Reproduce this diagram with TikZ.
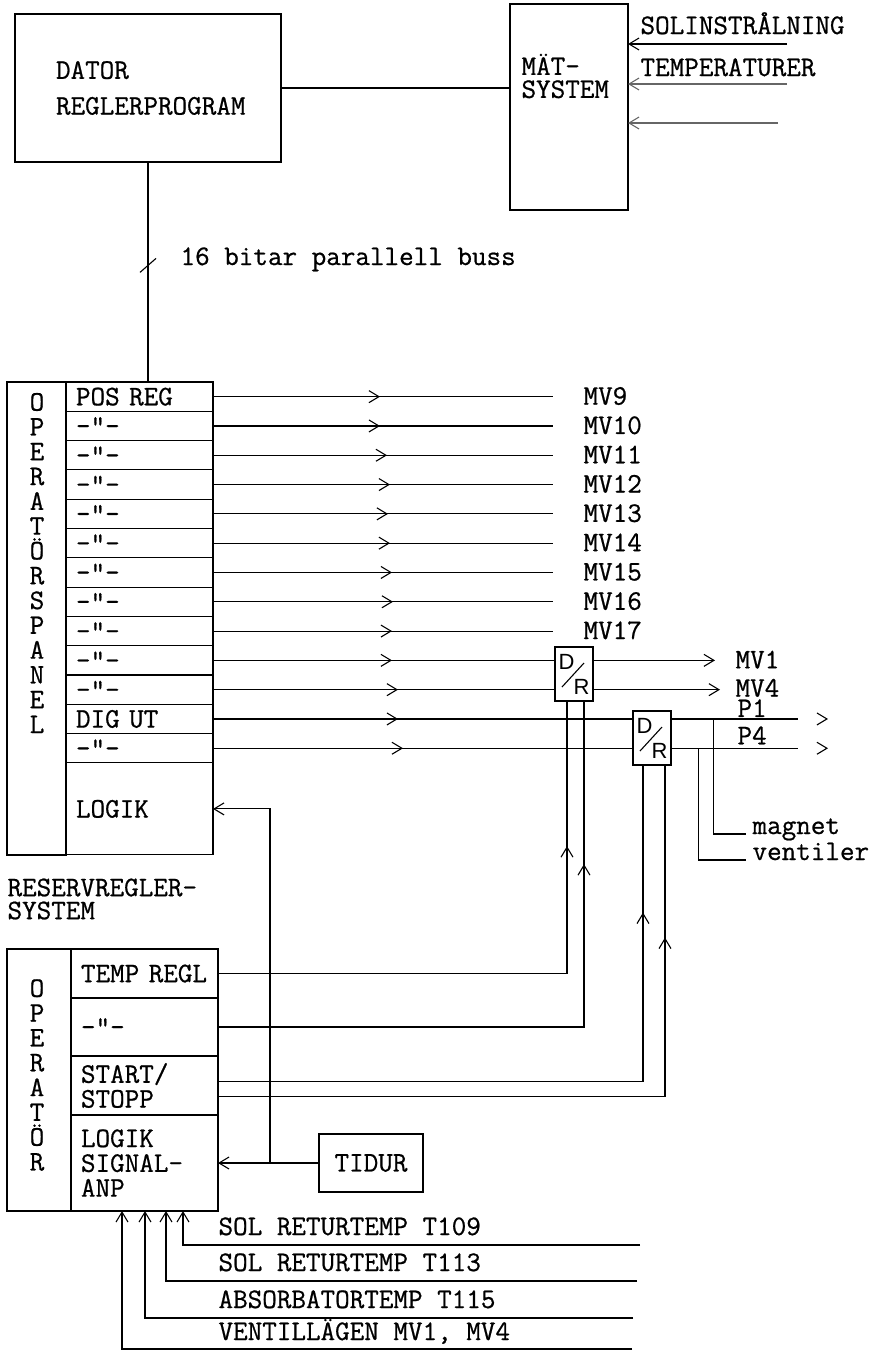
\documentclass[tikz,border=0pt]{standalone}
\usepackage{fontspec}
\setmonofont{Latin Modern Mono}[FakeBold=0.7]
\setsansfont{Liberation Sans}
\usetikzlibrary{arrows.meta,positioning,calc,decorations.markings}

\tikzset{
  box/.style={draw, inner sep=0pt, outer sep=0pt},
  cell/.style={draw, outer sep=0pt, minimum width=147pt, minimum height=29.3pt,
    text width=127pt, align=left, inner xsep=10pt, inner ysep=0pt},
  lbl/.style={inner sep=0pt},
  arr/.style={-{Straight Barb[length=10pt,width=12pt]}},
  midarr/.style={postaction={decorate}, decoration={markings,
      mark=at position #1 with {\arrow{Straight Barb[length=10pt,width=12pt]}}}},
  dr/.style={draw, minimum width=38pt, minimum height=54pt, inner sep=0pt,
    font=\sffamily\fontsize{22}{22}\selectfont,
    path picture={\draw[line width=1.1pt]
      ([shift={(7pt,14pt)}]path picture bounding box.south west) --
      ([shift={(-9pt,-16pt)}]path picture bounding box.north east);}},
}

\begin{document}
\begin{tikzpicture}[x=1pt, y=-1pt, line width=1.1pt,
  font=\ttfamily\fontsize{28.3}{24.8}\selectfont]
\useasboundingbox (0,0) rectangle (881,1352);

% computer and measuring system
\node[box, minimum width=266pt, minimum height=148pt, text width=184pt,
  align=left, inner xsep=41pt, anchor=north west] (dator) at (15,14)
  {DATOR\\[11pt]\mbox{REGLERPROGRAM}};
\node[box, minimum width=118pt, minimum height=206pt, anchor=north west] (mat) at (510,4) {};
\node[lbl, align=left, anchor=west, font=\ttfamily\fontsize{28.3}{23}\selectfont]
  (mattxt) at (521,76) {MÄT-\\SYSTEM};
\node[lbl, anchor=base west] (sol) at (640,34) {SOLINSTRÅLNING};
\node[lbl, anchor=base west] (temp) at (640,76) {TEMPERATURER};
\coordinate (insol) at (787,44);
\coordinate (intemp) at (787,84);
\coordinate (inx) at (778,123);
\draw (dator.east) -- (dator.east -| mat.west);
\draw[arr] (insol) -- (insol -| mat.east);
\draw[arr, black!60] (intemp) -- (intemp -| mat.east);
\draw[arr, black!60] (inx) -- (inx -| mat.east);

% operator panel
\node[cell, anchor=north west] (r1) at (66,382) {POS REG};
\foreach \i [evaluate=\i as \j using int(\i-1)] in {2,...,11}
  \node[cell, below=0pt of r\j] (r\i) {-"-};
\node[cell, below=0pt of r11] (r12) {DIG UT};
\node[cell, below=0pt of r12] (r13) {-"-};
\node[cell, below=0pt of r13, minimum height=92pt] (logik) {LOGIK};
\node[box, minimum width=59pt, minimum height=473pt, anchor=north east] (opcol) at (r1.north west) {};
\node[lbl, align=center] (optxt) at (37,563) {O\\P\\E\\R\\A\\T\\Ö\\R\\S\\P\\A\\N\\E\\L};

% bus
\draw (dator.south) -- (dator.south |- r1.north) coordinate[pos=0.47] (busmk);
\draw ([shift={(-8pt,-7pt)}]busmk) -- ([shift={(8pt,7pt)}]busmk);
\node[lbl, anchor=base west] (bus) at (180,265) {16 bitar parallell buss};

% converters
\node[dr, line width=2.2pt] (dr1) at (574,674) {\raisebox{12pt}{D}\kern-1pt\raisebox{-13pt}{R}};
\node[dr] (dr2) at (652,738) {\raisebox{12pt}{D}\kern-1pt\raisebox{-13pt}{R}};

\foreach \i/\mv/\tp in {1/9/167pt, 2/10/167pt, 3/11/174pt, 4/12/177pt,
    5/13/175pt, 6/14/177pt, 7/15/179pt, 8/16/180pt, 9/17/179pt} {
  \node[lbl, anchor=base west] (mv\mv) at ($(r\i.east)+(370,8)$) {MV\mv};
  \draw[midarr=\tp, shorten >=30pt] (r\i.east) -- (r\i.east -| mv\mv.west);
}
\draw[midarr=179pt] (r10.east) -- (r10.east -| dr1.west);
\draw[midarr=185pt] (r11.east) -- (r11.east -| dr1.west);
\draw[midarr=185pt] (r12.east) -- (r12.east -| dr2.west);
\draw[midarr=190pt] (r13.east) -- (r13.east -| dr2.west);

\node[lbl, anchor=base west] (mv1) at ($(r10.east)+(522,8)$) {MV1};
\node[lbl, anchor=base west] (mv4) at ($(r11.east)+(522,7)$) {MV4};
\draw[arr, shorten >=20pt] (dr1.east |- r10.east) -- (r10.east -| mv1.west);
\draw[arr, shorten >=15pt] (dr1.east |- r11.east) -- (r11.east -| mv4.west);

\node[lbl, anchor=base west] (p1) at ($(r12.east)+(524,-2)$) {P1};
\node[lbl, anchor=base west] (p4) at ($(r13.east)+(524,-4)$) {P4};
\coordinate (p1end) at ($(r12.east)+(615,0)$);
\coordinate (p4end) at ($(r13.east)+(615,0)$);
\draw[arr, dash pattern=on 126pt off 80pt] (dr2.east |- r12.east) -- (p1end);
\draw[arr, dash pattern=on 126pt off 80pt] (dr2.east |- r13.east) -- (p4end);

\node[lbl, anchor=base west] (mag) at (752,834) {magnet};
\node[lbl, anchor=base west] (ven) at (752,860) {ventiler};
\path (dr2.east) ++(42,0) coordinate (tapa) ++(-15,0) coordinate (tapb);
\draw[shorten >=6pt] (tapa |- r12.east) |- (mag.base west);
\draw[shorten >=6pt] (tapb |- r13.east) |- (ven.base west);

% reserve controller
\node[lbl, anchor=west, align=left, font=\ttfamily\fontsize{28.3}{23}\selectfont]
  (res) at (7,899) {RESERVREGLER-\\SYSTEM};
\node[cell, anchor=north west, minimum height=49pt] (tr) at (71,949) {TEMP~REGL};
\node[cell, below=0pt of tr, minimum height=58pt] (rd) {-"-};
\node[cell, below=0pt of rd, minimum height=59pt] (ss) {START/\\STOPP};
\node[cell, below=0pt of ss, minimum height=96pt] (sig) {LOGIK\\SIGNAL-\\ANP};
\node[box, minimum width=64pt, minimum height=262pt, anchor=north east] (opcol2) at (tr.north west) {};
\node[lbl, align=center] (optxt2) at (37,1075) {O\\P\\E\\R\\A\\T\\Ö\\R};

\draw[midarr=-144pt] (tr.east) -| ([xshift=-7pt]dr1.south);
\draw[midarr=-162pt] (rd.east) -| ([xshift=10pt]dr1.south);
\draw[midarr=-147pt] ([yshift=4pt]ss.east) -| ([xshift=-9pt]dr2.south);
\draw[midarr=-172pt] ([yshift=-11pt]ss.east) -| ([xshift=13pt]dr2.south);

% timer
\node[box, minimum width=104pt, minimum height=58pt] (tidur) at (371,1163) {TIDUR};
\draw[arr] (tidur.west) -- (tidur.west -| sig.east) coordinate[pos=0.485] (br);
\draw[arr] (br) |- (logik.east);

% inputs
\node[lbl, anchor=base west] (t109) at (218,1235) {SOL RETURTEMP T109};
\node[lbl, anchor=base west] (t113) at (218,1271) {SOL RETURTEMP T113};
\node[lbl, anchor=base west] (t115) at (218,1308) {ABSORBATORTEMP T115};
\node[lbl, anchor=base west] (vent) at (218,1340) {VENTILLÄGEN MV1, MV4};
\foreach \k/\yy/\xe/\dx in {1/1245/640/112pt, 2/1281/637/95pt, 3/1318/633/74pt, 4/1349/632/51pt} {
  \coordinate (in\k) at (\xe,\yy);
  \draw[arr] (in\k) -| ([xshift=\dx]sig.south west);
}
\end{tikzpicture}
\end{document}
